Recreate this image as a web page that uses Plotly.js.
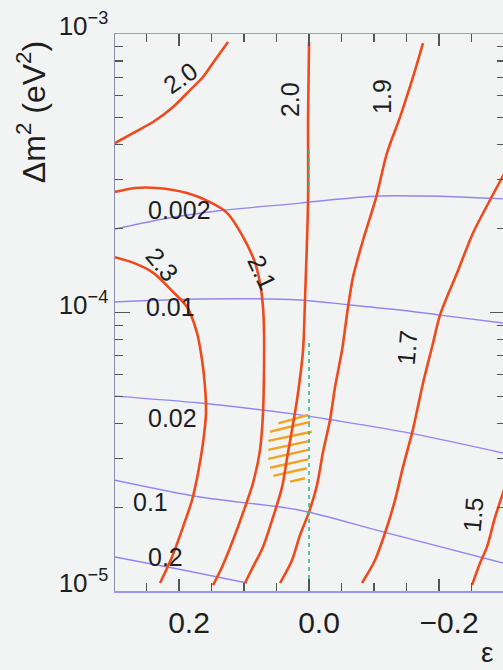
<!DOCTYPE html>
<html><head><meta charset="utf-8">
<script src="https://cdn.plot.ly/plotly-3.0.1.min.js"></script>
<style>html,body{margin:0;padding:0;overflow:hidden;background:#f2f4f4;}#chart{width:505px;height:670px;}</style>
</head><body><div id="chart"></div><script>
// ---- data (epsilon, Δm² in eV²) ----
const red20TopEps = [0.2985, 0.2708, 0.24, 0.2092, 0.1831, 0.1631, 0.1446, 0.1246];
const red20TopDm2 = [4.06e-4, 4.41e-4, 4.83e-4, 5.47e-4, 6.29e-4, 7.01e-4, 8.07e-4, 9.36e-4];

const red23Eps = [0.2985, 0.2708, 0.24, 0.2092, 0.1877, 0.1723, 0.1646, 0.16, 0.1585, 0.1631, 0.1708, 0.18, 0.1938, 0.2108, 0.2292];
const red23Dm2 = [1.58e-4, 1.51e-4, 1.39e-4, 1.185e-4, 1.046e-4, 8.44e-5, 6.75e-5, 5.40e-5, 4.36e-5, 3.40e-5, 2.65e-5, 2.12e-5, 1.70e-5, 1.325e-5, 1.068e-5];

const red21Eps = [0.2985, 0.2677, 0.2338, 0.1877, 0.1523, 0.1262, 0.1015, 0.0831, 0.0754, 0.0708, 0.0692, 0.0692, 0.0708, 0.0754, 0.0862, 0.0985, 0.1169, 0.1338, 0.1477];
const red21Dm2 = [2.71e-4, 2.80e-4, 2.80e-4, 2.685e-4, 2.49e-4, 2.28e-4, 1.87e-4, 1.51e-4, 1.276e-4, 1.046e-4, 8.44e-5, 6.37e-5, 4.36e-5, 3.21e-5, 2.44e-5, 2.00e-5, 1.524e-5, 1.22e-5, 1.05e-5];

const red20Eps = [0, 0.0015, 0.0015, 0.0062, 0.0092, 0.0185, 0.0338, 0.0415, 0.0554, 0.0708, 0.0862, 0.0985];
const red20Dm2 = [9.36e-4, 4.91e-4, 2.535e-4, 1.109e-4, 7.33e-5, 4.85e-5, 3.0e-5, 2.36e-5, 1.84e-5, 1.44e-5, 1.22e-5, 1.068e-5];

const red19Eps = [-0.1754, -0.16, -0.14, -0.12, -0.1031, -0.0831, -0.0677, -0.06, -0.0508, -0.04, -0.0323, -0.0215, -0.0123, 0, 0.0138, 0.0262, 0.0446];
const red19Dm2 = [9.28e-4, 7.01e-4, 5.03e-4, 3.74e-4, 2.58e-4, 1.82e-4, 1.34e-4, 1.046e-4, 7.33e-5, 5.40e-5, 4.11e-5, 3.155e-5, 2.40e-5, 1.92e-5, 1.59e-5, 1.29e-5, 1.068e-5];

const red17Eps = [-0.3015, -0.2785, -0.2523, -0.2277, -0.2015, -0.1908, -0.1754, -0.1631, -0.1585, -0.1446, -0.1323, -0.1169, -0.1015, -0.0815];
const red17Dm2 = [3.19e-4, 2.535e-4, 1.93e-4, 1.386e-4, 9.79e-5, 7.77e-5, 5.58e-5, 4.11e-5, 3.69e-5, 2.79e-5, 2.12e-5, 1.615e-5, 1.29e-5, 1.068e-5];

const red15Eps = [-0.3015, -0.2862, -0.2738, -0.2631, -0.2508];
const red15Dm2 = [2.36e-5, 1.84e-5, 1.44e-5, 1.26e-5, 1.05e-5];

const blue0002Eps = [0.2985, 0.2185, 0.1415, 0.0138, -0.0477, -0.1092, -0.1708, -0.2323, -0.3015];
const blue0002Dm2 = [1.995e-4, 2.18e-4, 2.315e-4, 2.47e-4, 2.556e-4, 2.62e-4, 2.62e-4, 2.60e-4, 2.556e-4];

const blue001Eps = [0.2985, 0.1677, 0.0138, -0.0631, -0.14, -0.2015, -0.3015];
const blue001Dm2 = [1.091e-4, 1.118e-4, 1.109e-4, 1.064e-4, 1.021e-4, 9.79e-5, 9.15e-5];

const blue002Eps = [0.2985, 0.1677, 0.0138, -0.0369, -0.1554, -0.3015];
const blue002Dm2 = [5.01e-5, 4.73e-5, 4.29e-5, 4.11e-5, 3.69e-5, 3.12e-5];

const blue01Eps = [0.2985, 0.1677, 0.0138, -0.1138, -0.3015];
const blue01Dm2 = [2.50e-5, 2.175e-5, 1.95e-5, 1.63e-5, 1.255e-5];

const blue02Eps = [0.2985, 0.1938, 0.0954];
const blue02Dm2 = [1.325e-5, 1.19e-5, 1.068e-5];

const greenEps = [0, 0, null, 0, 0];
const greenDm2 = [3.83e-4, 2.71e-4, null, 7.77e-5, 1.07e-5];

const hatchEps = [0.0472, 0.0011, null, 0.06, -0.0015, null, 0.0626, -0.0042, null, 0.0626, -0.0015, null, 0.0626, 0.0011, null, 0.06, 0.0011, null, 0.0549, 0.0035, null, 0.0292, 0.0062];
const hatchDm2 = [4.00e-5, 4.29e-5, null, 3.73e-5, 4.05e-5, null, 3.46e-5, 3.73e-5, null, 3.21e-5, 3.46e-5, null, 2.98e-5, 3.21e-5, null, 2.77e-5, 2.97e-5, null, 2.59e-5, 2.76e-5, null, 2.47e-5, 2.54e-5];

const xTickVals = [0.2, 0, -0.2];
const xTickText = ['0.2', '0.0', '\u22120.2'];
const xMinorVals = [0.25, 0.15, 0.1, 0.05, -0.05, -0.1, -0.15, -0.25];
const yTickVals = [1e-5, 1e-4, 1e-3];
const yTickText = ['10<sup>\u22125</sup>', '10<sup>\u22124</sup>', '10<sup>\u22123</sup>'];
const yMinorVals = [2e-5,3e-5,4e-5,5e-5,6e-5,7e-5,8e-5,9e-5,2e-4,3e-4,4e-4,5e-4,6e-4,7e-4,8e-4,9e-4];

const labelText = ['2.0', '2.0', '1.9', '1.7', '1.5', '2.3', '2.1', '0.002', '0.01', '0.02', '0.1', '0.2'];

// ---- styles ----
const RED = '#ef4a1c', BLUE = '#9088ee', GREEN = '#2fbf8c', ORANGE = '#f2a21e';
const FONT = 'Liberation Sans, Arial, Helvetica, sans-serif';

function line(x, y, color, width, extra) {
  return Object.assign({x: x, y: y, type: 'scatter', mode: 'lines', hoverinfo: 'skip', showlegend: false,
    line: {color: color, width: width, shape: 'spline', smoothing: 0.8}}, extra || {});
}

const traces = [
  line(blue0002Eps, blue0002Dm2, BLUE, 1.4),
  line(blue001Eps, blue001Dm2, BLUE, 1.4),
  line(blue002Eps, blue002Dm2, BLUE, 1.4),
  line(blue01Eps, blue01Dm2, BLUE, 1.4),
  line(blue02Eps, blue02Dm2, BLUE, 1.4),
  {x: hatchEps, y: hatchDm2, type: 'scatter', mode: 'lines', hoverinfo: 'skip', showlegend: false, connectgaps: false,
   line: {color: ORANGE, width: 2.4}},
  line(red20TopEps, red20TopDm2, RED, 2.6),
  line(red23Eps, red23Dm2, RED, 2.6),
  line(red21Eps, red21Dm2, RED, 2.6),
  line(red20Eps, red20Dm2, RED, 2.6),
  line(red19Eps, red19Dm2, RED, 2.6),
  line(red17Eps, red17Dm2, RED, 2.6),
  line(red15Eps, red15Dm2, RED, 2.6),
  {x: greenEps, y: greenDm2, type: 'scatter', mode: 'lines', hoverinfo: 'skip', showlegend: false, connectgaps: false,
   line: {color: GREEN, width: 1.6, dash: '4px,4px'}}
];

// label placement: epsilon, log10(Δm²), angle
const labelPos = [
  [0.1985, -3.158, -35], [0.0292, -3.237, -90], [-0.1123, -3.226, -90], [-0.1508, -4.1275, -85],
  [-0.2523, -4.727, -85], [0.2262, -3.826, 50], [0.0723, -3.8546, 65], [0.2, -3.632, 0],
  [0.2138, -3.980, 0], [0.2108, -4.379, 0], [0.2446, -4.680, 0], [0.2215, -4.878, 0]
];
const annotations = labelText.map((t, i) => ({
  text: t, x: labelPos[i][0], y: labelPos[i][1], xref: 'x', yref: 'y', textangle: labelPos[i][2],
  showarrow: false, xanchor: 'center', yanchor: 'middle', font: {family: FONT, size: 25, color: '#1e1e1e'}
}));
annotations.push({text: '\u0394m<sup>2</sup> (eV<sup>2</sup>)', xref: 'paper', yref: 'paper', x: -0.215, y: 0.86,
  textangle: -90, showarrow: false, xanchor: 'center', yanchor: 'middle', font: {family: FONT, size: 32, color: '#1e1e1e'}});
annotations.push({text: '\u03b5', xref: 'paper', yref: 'paper', x: 0.955, y: -0.1418,
  showarrow: false, xanchor: 'center', yanchor: 'bottom', font: {family: FONT, size: 28, color: '#1e1e1e'}});

const layout = {
  width: 505, height: 670,
  margin: {l: 115, r: 0, t: 34, b: 79, pad: 0},
  paper_bgcolor: '#f2f4f4', plot_bgcolor: '#f2f4f4',
  xaxis: {
    range: [0.2985, -0.3015], tickmode: 'array', tickvals: xTickVals, ticktext: xTickText,
    ticks: 'inside', ticklen: 12, tickwidth: 1.2, tickcolor: '#555',
    minor: {tickmode: 'array', tickvals: xMinorVals, ticks: 'inside', ticklen: 8, tickwidth: 1.2, tickcolor: '#555'},
    showgrid: false, zeroline: false, showline: true, linecolor: '#9a98ea', linewidth: 1.5, mirror: 'ticks',
    tickfont: {family: FONT, size: 30, color: '#1e1e1e'}, ticklabelstandoff: 4, ticklabelshift: -10
  },
  yaxis: {
    type: 'log', range: [-5, -3], tickmode: 'array', tickvals: yTickVals, ticktext: yTickText,
    ticks: 'inside', ticklen: 15, tickwidth: 1.2, tickcolor: '#555',
    minor: {tickmode: 'array', tickvals: yMinorVals, ticks: 'inside', ticklen: 8, tickwidth: 1.2, tickcolor: '#555'},
    showgrid: false, zeroline: false, showline: true, linecolor: '#8a90b4', linewidth: 1.5, mirror: 'ticks',
    tickfont: {family: FONT, size: 26, color: '#1e1e1e'}, ticklabelstandoff: 0, ticklabelshift: -8
  },
  annotations: annotations
};

Plotly.newPlot('chart', traces, layout, {staticPlot: true, displayModeBar: false});
</script></body></html>
